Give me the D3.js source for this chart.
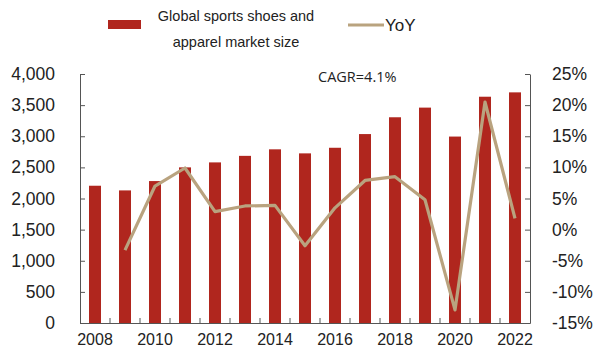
<!DOCTYPE html>
<html>
<head>
<meta charset="utf-8">
<script src="https://cdn.jsdelivr.net/npm/d3@7"></script>
<style>
body{margin:0;background:#fff;}
text{font-family:Arial,"Liberation Sans",sans-serif;}
</style>
</head>
<body>
<div id="chart"></div>
<script>
var W=598,H=356;
var years=[2008,2009,2010,2011,2012,2013,2014,2015,2016,2017,2018,2019,2020,2021,2022];
var marketSize=[2205,2130,2280,2500,2580,2685,2790,2725,2815,3035,3305,3460,2995,3635,3705];
var yoy=[null,-3.3,7.0,9.9,2.9,3.8,3.9,-2.6,3.5,7.9,8.5,4.8,-12.9,20.5,1.8];
var leftTicks=[0,500,1000,1500,2000,2500,3000,3500,4000];
var rightTicks=[-15,-10,-5,0,5,10,15,20,25];
var xLabels=[2008,2010,2012,2014,2016,2018,2020,2022];

var svg=d3.select("#chart").append("svg").attr("width",W).attr("height",H);
var plotL=80,plotR=530,plotT=74,plotB=323;
var axisCol="#555";

var x=d3.scaleBand().domain(years).range([plotL,plotR]).paddingInner(0.6).paddingOuter(0.3);
var y=d3.scaleLinear().domain([0,4000]).range([plotB,plotT]);
var y2=d3.scaleLinear().domain([-15,25]).range([plotB,plotT]);

// bars
svg.selectAll(".bar").data(years).enter().append("rect")
	.attr("x",function(d){return x(d);})
	.attr("y",function(d,i){return y(marketSize[i]);})
	.attr("width",x.bandwidth())
	.attr("height",function(d,i){return plotB-y(marketSize[i]);})
	.attr("fill","#b0261e");

// yoy line
var pts=years.map(function(d,i){return [d,yoy[i]];}).filter(function(p){return p[1]!==null;});
var line=d3.line().x(function(p){return x(p[0])+x.bandwidth()/2;}).y(function(p){return y2(p[1]);});
svg.append("path").datum(pts).attr("d",line).attr("fill","none")
	.attr("stroke","#b9a37f").attr("stroke-width",3.2).attr("stroke-linejoin","round");

// left axis
var gl=svg.append("g").attr("transform","translate("+plotL+",0)")
	.call(d3.axisLeft(y).tickValues(leftTicks).tickSizeInner(-5).tickSizeOuter(0).tickPadding(25).tickFormat(d3.format(",")));
gl.select(".domain").attr("stroke",axisCol);
gl.selectAll(".tick line").attr("stroke",axisCol);
gl.selectAll(".tick text").attr("font-size",17.5).attr("fill","#222").attr("font-family","Arial,'Liberation Sans',sans-serif");

// right axis
var gr=svg.append("g").attr("transform","translate("+plotR+",0)")
	.call(d3.axisRight(y2).tickValues(rightTicks).tickSizeInner(-5).tickSizeOuter(0).tickPadding(22).tickFormat(function(d){return d+"%";}));
gr.select(".domain").attr("stroke",axisCol);
gr.selectAll(".tick line").attr("stroke",axisCol);
gr.selectAll(".tick text").attr("font-size",17.5).attr("fill","#222").attr("font-family","Arial,'Liberation Sans',sans-serif");

// bottom axis
var gb=svg.append("g").attr("transform","translate(0,"+plotB+")")
	.call(d3.axisBottom(x).tickValues(xLabels).tickSize(0).tickPadding(11));
gb.select(".domain").attr("stroke",axisCol);
gb.selectAll(".tick text").attr("font-size",16).attr("fill","#222").attr("font-family","Arial,'Liberation Sans',sans-serif");
var step=x.step();
svg.selectAll(".xt").data(years.slice(1)).enter().append("line")
	.attr("x1",function(d){return x(d)-step*0.3;}).attr("x2",function(d){return x(d)-step*0.3;})
	.attr("y1",plotB).attr("y2",plotB-5).attr("stroke",axisCol);

// CAGR label
svg.append("text").text("CAGR=4.1%").attr("x",318).attr("y",82)
	.attr("font-size",14.5).attr("fill","#222").style("font-family","'Open Sans','Liberation Sans',sans-serif");

// legend
svg.append("rect").attr("x",108).attr("y",20).attr("width",33).attr("height",9).attr("fill","#b0261e");
svg.append("text").text("Global sports shoes and").attr("x",236).attr("y",21).attr("text-anchor","middle").attr("font-size",14.5).attr("fill","#222");
svg.append("text").text("apparel market size").attr("x",236).attr("y",47).attr("text-anchor","middle").attr("font-size",14.5).attr("fill","#222");
svg.append("line").attr("x1",348).attr("x2",384).attr("y1",25).attr("y2",25).attr("stroke","#b9a37f").attr("stroke-width",3.2);
svg.append("text").text("YoY").attr("x",385).attr("y",31).attr("font-size",17).attr("fill","#222");
</script>
</body>
</html>
